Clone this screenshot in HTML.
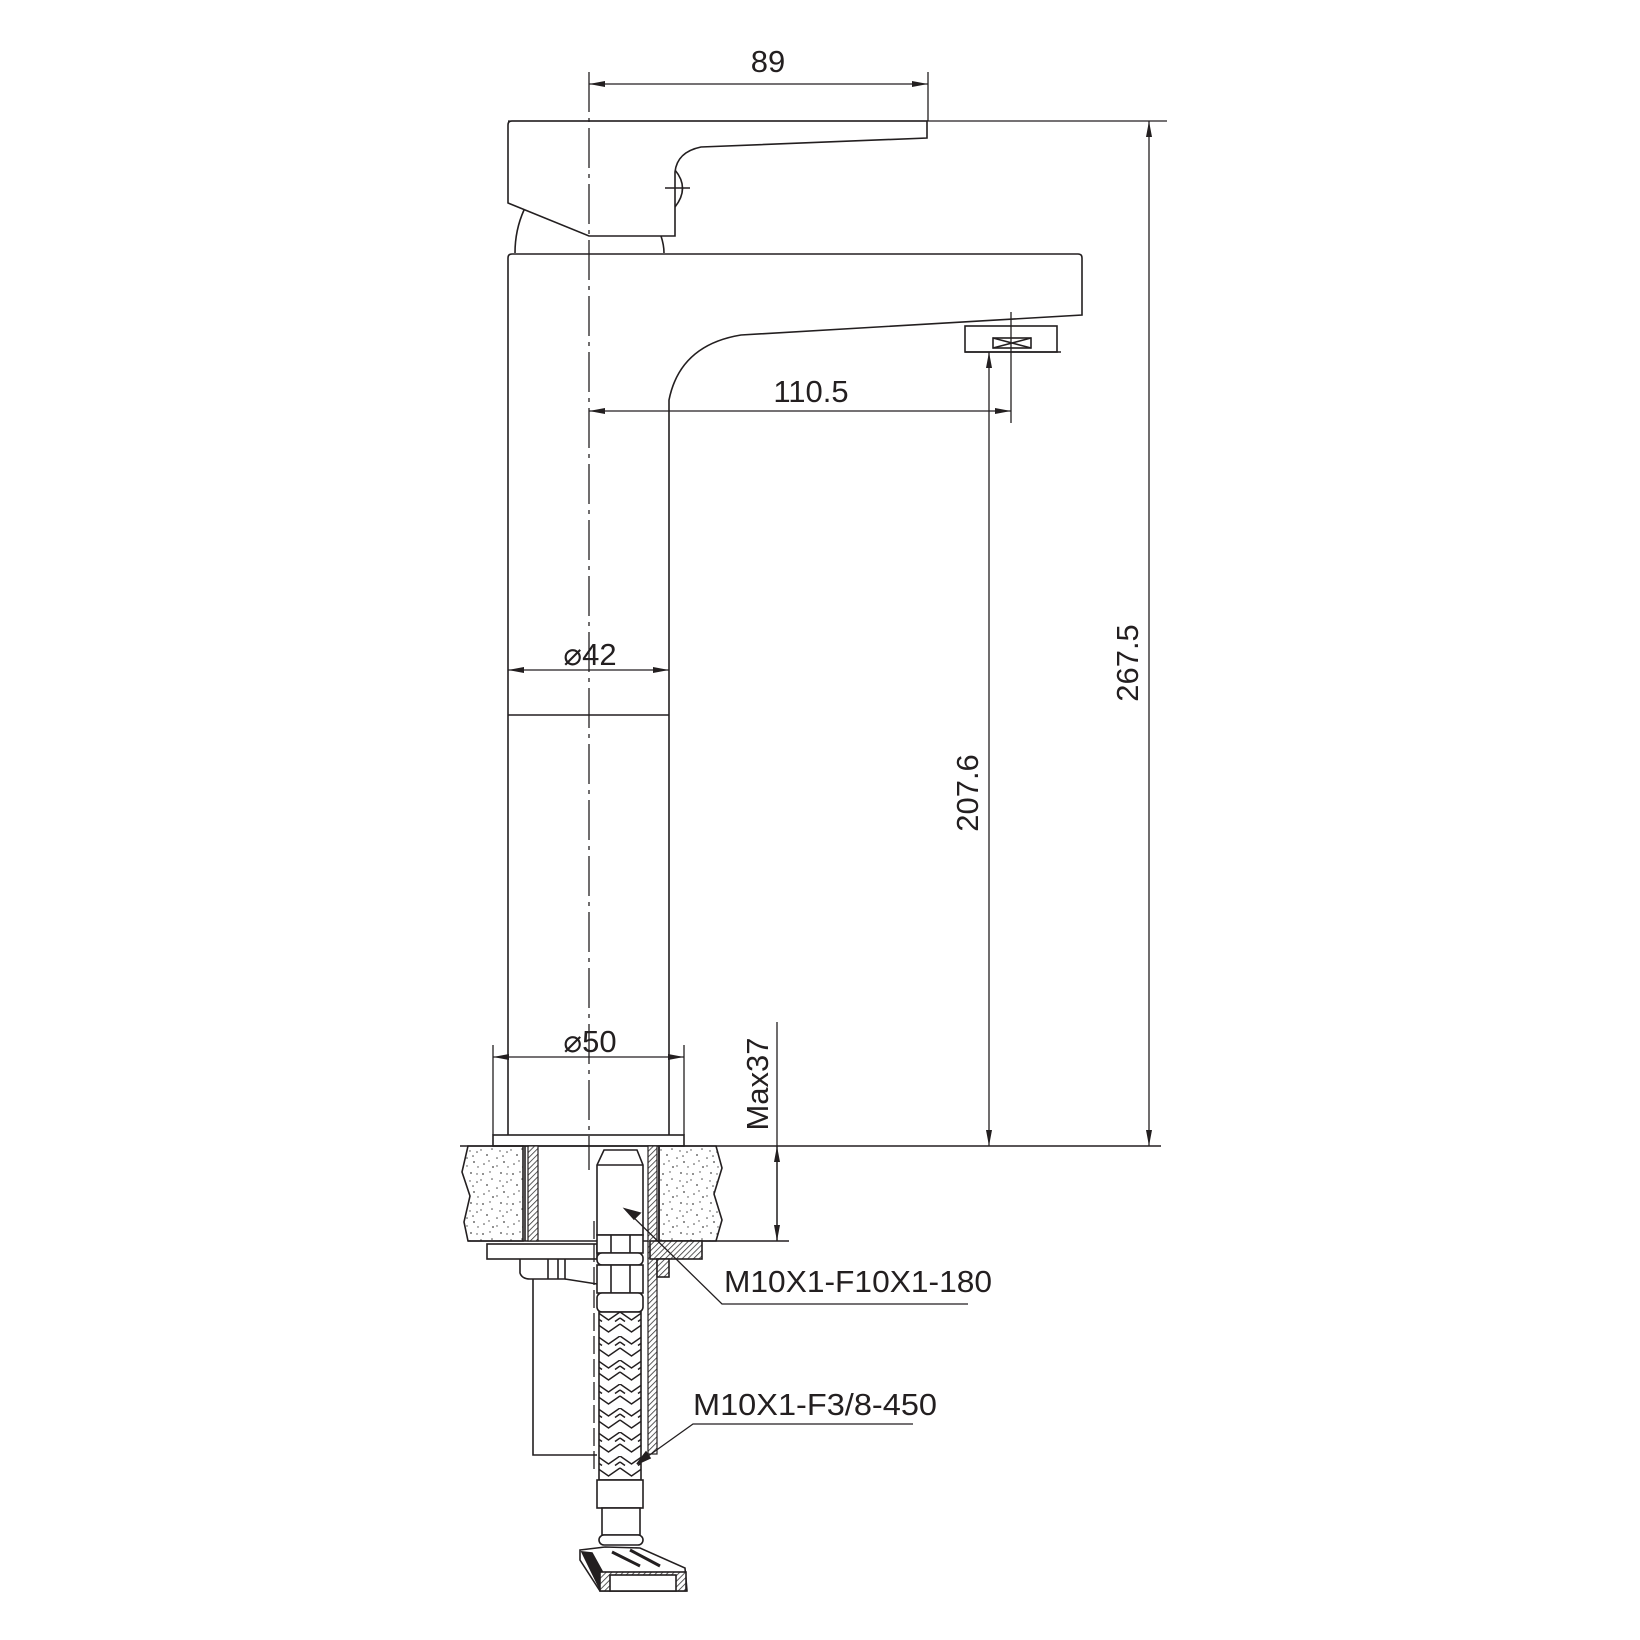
<!DOCTYPE html>
<html><head><meta charset="utf-8"><style>html,body{margin:0;padding:0;background:#fff}svg{display:block}text{font-family:"Liberation Sans",sans-serif;fill:#231f20}</style></head>
<body>
<svg width="1640" height="1640" viewBox="0 0 1640 1640" xmlns="http://www.w3.org/2000/svg">
<defs>
<marker id="a" viewBox="0 0 16 6" refX="16" refY="3" markerWidth="16" markerHeight="6" markerUnits="userSpaceOnUse" orient="auto-start-reverse"><path d="M0,0 L16,3 L0,6 Z" fill="#231f20"/></marker>
<pattern id="sp" width="30" height="30" patternUnits="userSpaceOnUse">
<g fill="#444"><circle cx="3" cy="4" r="0.9"/><circle cx="12" cy="9" r="0.8"/><circle cx="21" cy="3" r="0.9"/><circle cx="27" cy="12" r="0.8"/><circle cx="7" cy="15" r="0.9"/><circle cx="17" cy="18" r="0.8"/><circle cx="24" cy="22" r="0.9"/><circle cx="28" cy="27" r="0.7"/><circle cx="4" cy="24" r="0.8"/><circle cx="13" cy="27" r="0.9"/><circle cx="20" cy="11" r="0.7"/><circle cx="17" cy="26" r="0.7"/><circle cx="27" cy="4" r="0.7"/><circle cx="9" cy="21" r="0.7"/><circle cx="23" cy="16" r="0.8"/><circle cx="1" cy="10" r="0.7"/><circle cx="10" cy="2" r="0.7"/></g></pattern>
<pattern id="ht" width="4" height="4" patternUnits="userSpaceOnUse" patternTransform="rotate(45)"><rect width="4" height="4" fill="#fff"/><line x1="0" y1="0" x2="0" y2="4" stroke="#333" stroke-width="1.6"/></pattern>
<pattern id="br" width="23" height="24" patternUnits="userSpaceOnUse" x="597" y="1312"><rect width="23" height="24" fill="#fff"/><path d="M0,0 L11.5,8 L23,0 M0,12 L11.5,20 L23,12 M0,6 L5,9.5 M23,6 L18,9.5" fill="none" stroke="#231f20" stroke-width="1.5"/></pattern>
</defs>
<g fill="none" stroke="#231f20" stroke-width="1.6">
<path d="M508,125 Q508,121 512,121 L927,121 L927,138 L701,147 Q677,152 675,172 L675,236 L589,236 L508,203 Z"/>
<path d="M675,170 Q690,188 675,207"/>
<line x1="665" y1="188" x2="690" y2="188"/>
<path d="M524,210 Q515,230 515,253"/>
<path d="M661,236 Q664,245 664,253"/>
<path d="M508,1135 L508,258 Q508,254 512,254 L1078,254 Q1082,254 1082,258 L1082,315 L741,335 Q680,345 669,400 L669,1135"/>
<rect x="965" y="326" width="92" height="26"/>
<rect x="993" y="338" width="38" height="10"/>
<path d="M993,338 L1031,348 M993,348 L1031,338"/>
<line x1="965" y1="352" x2="1061" y2="352"/>
<line x1="508" y1="715" x2="669" y2="715"/>
<line x1="508" y1="121" x2="1167" y2="121" stroke-width="1.3"/>
<line x1="928" y1="72" x2="928" y2="121" stroke-width="1.3"/>
<line x1="1011" y1="312" x2="1011" y2="423" stroke-width="1.3"/>
<line x1="493" y1="1045" x2="493" y2="1135" stroke-width="1.3"/>
<line x1="684" y1="1045" x2="684" y2="1135" stroke-width="1.3"/>
<line x1="460" y1="1146" x2="1161" y2="1146" stroke-width="1.6"/>
<line x1="777" y1="1022" x2="777" y2="1241" stroke-width="1.3"/>
<line x1="589" y1="72" x2="589" y2="1170" stroke-width="1.3" stroke-dasharray="40,6,4,6"/>
<g stroke-width="1.3">
<line x1="589" y1="84" x2="928" y2="84" marker-start="url(#a)" marker-end="url(#a)"/>
<line x1="589" y1="411" x2="1011" y2="411" marker-start="url(#a)" marker-end="url(#a)"/>
<line x1="508" y1="670" x2="669" y2="670" marker-start="url(#a)" marker-end="url(#a)"/>
<line x1="493" y1="1057" x2="684" y2="1057" marker-start="url(#a)" marker-end="url(#a)"/>
<line x1="989" y1="352" x2="989" y2="1146" marker-start="url(#a)" marker-end="url(#a)"/>
<line x1="1149" y1="121" x2="1149" y2="1146" marker-start="url(#a)" marker-end="url(#a)"/>
<line x1="777" y1="1146" x2="777" y2="1241" marker-start="url(#a)" marker-end="url(#a)"/>
</g>
<rect x="493" y="1135" width="191" height="11"/>
<path d="M468,1146 L523,1146 L523,1241 L468,1241 L464,1222 L470,1196 L462,1172 Z" fill="url(#sp)"/>
<path d="M659,1146 L716,1146 L722,1168 L714,1194 L722,1220 L716,1241 L659,1241 Z" fill="url(#sp)"/>
<line x1="468" y1="1241" x2="789" y2="1241"/>
<rect x="528" y="1146" width="10" height="95" fill="url(#ht)" stroke-width="1.2"/>
<line x1="525" y1="1146" x2="525" y2="1241"/>
<rect x="648" y="1146" width="9" height="308" fill="url(#ht)" stroke-width="1.2"/>
<line x1="659" y1="1146" x2="659" y2="1241"/>
<rect x="487" y="1244" width="110" height="15"/>
<path d="M520,1259 L520,1273 Q522,1279 530,1279 L565,1279 L565,1259"/>
<line x1="548" y1="1259" x2="548" y2="1279"/>
<line x1="558" y1="1259" x2="558" y2="1279"/>
<path d="M533,1279 L533,1455 L597,1455"/>
<line x1="565" y1="1279" x2="597" y2="1284"/>
<line x1="594" y1="1221" x2="594" y2="1472" stroke-dasharray="18,5" stroke-width="1.3"/>
<rect x="650" y="1241" width="52" height="18" fill="url(#ht)"/>
<rect x="657" y="1259" width="12" height="18" fill="url(#ht)"/>
<path d="M597,1235 L597,1165 L604,1150 L637,1150 L643,1165 L643,1235 Z" fill="#fff"/>
<line x1="597" y1="1165" x2="643" y2="1165"/>
<rect x="597" y="1235" width="46" height="18" fill="#fff"/>
<line x1="611" y1="1235" x2="611" y2="1253"/><line x1="630" y1="1235" x2="630" y2="1253"/>
<rect x="597" y="1253" width="46" height="12" rx="5" fill="#fff"/>
<rect x="597" y="1265" width="46" height="28" fill="#fff"/>
<line x1="611" y1="1265" x2="611" y2="1293"/><line x1="630" y1="1265" x2="630" y2="1293"/>
<rect x="597" y="1293" width="46" height="19" rx="5" fill="#fff"/>
<rect x="599" y="1312" width="42" height="168" fill="url(#br)"/>
<rect x="597" y="1480" width="46" height="28" fill="#fff"/>
<rect x="602" y="1508" width="38" height="27" fill="#fff"/>
<rect x="599" y="1535" width="44" height="10" rx="5" fill="#fff"/>
<path d="M580,1550 L605,1547 L640,1548 L685,1568 L687,1591 L600,1591 L580,1560 Z" fill="#fff"/>
<path d="M582,1552 L600,1589 L608,1582 L592,1553 Z" fill="#231f20"/>
<rect x="600" y="1572" width="86" height="19" fill="url(#ht)"/>
<rect x="610" y="1575" width="66" height="16" fill="#fff"/>
<path d="M612,1552 L640,1566 M630,1550 L660,1566" stroke-width="3"/>
<path d="M625,1209 L722,1304 L968,1304" stroke-width="1.3"/>
<path d="M625,1209 L640,1213 L634,1219 Z" fill="#231f20"/>
<path d="M637,1464 L693,1424 L913,1424" stroke-width="1.3"/>
<path d="M637,1464 L646,1452 L650,1458 Z" fill="#231f20"/>
</g>
<g font-size="31">
<text x="768" y="72" text-anchor="middle">89</text>
<text x="811" y="402" text-anchor="middle">110.5</text>
<text x="590" y="665" text-anchor="middle">⌀42</text>
<text x="590" y="1052" text-anchor="middle">⌀50</text>
<text transform="translate(768,1084) rotate(-90)" text-anchor="middle">Max37</text>
<text transform="translate(978,793) rotate(-90)" text-anchor="middle">207.6</text>
<text transform="translate(1138,663) rotate(-90)" text-anchor="middle">267.5</text>
<text x="724" y="1292" textLength="268" lengthAdjust="spacingAndGlyphs">M10X1-F10X1-180</text>
<text x="693" y="1415" textLength="244" lengthAdjust="spacingAndGlyphs">M10X1-F3/8-450</text>
</g>
</svg>
</body></html>
